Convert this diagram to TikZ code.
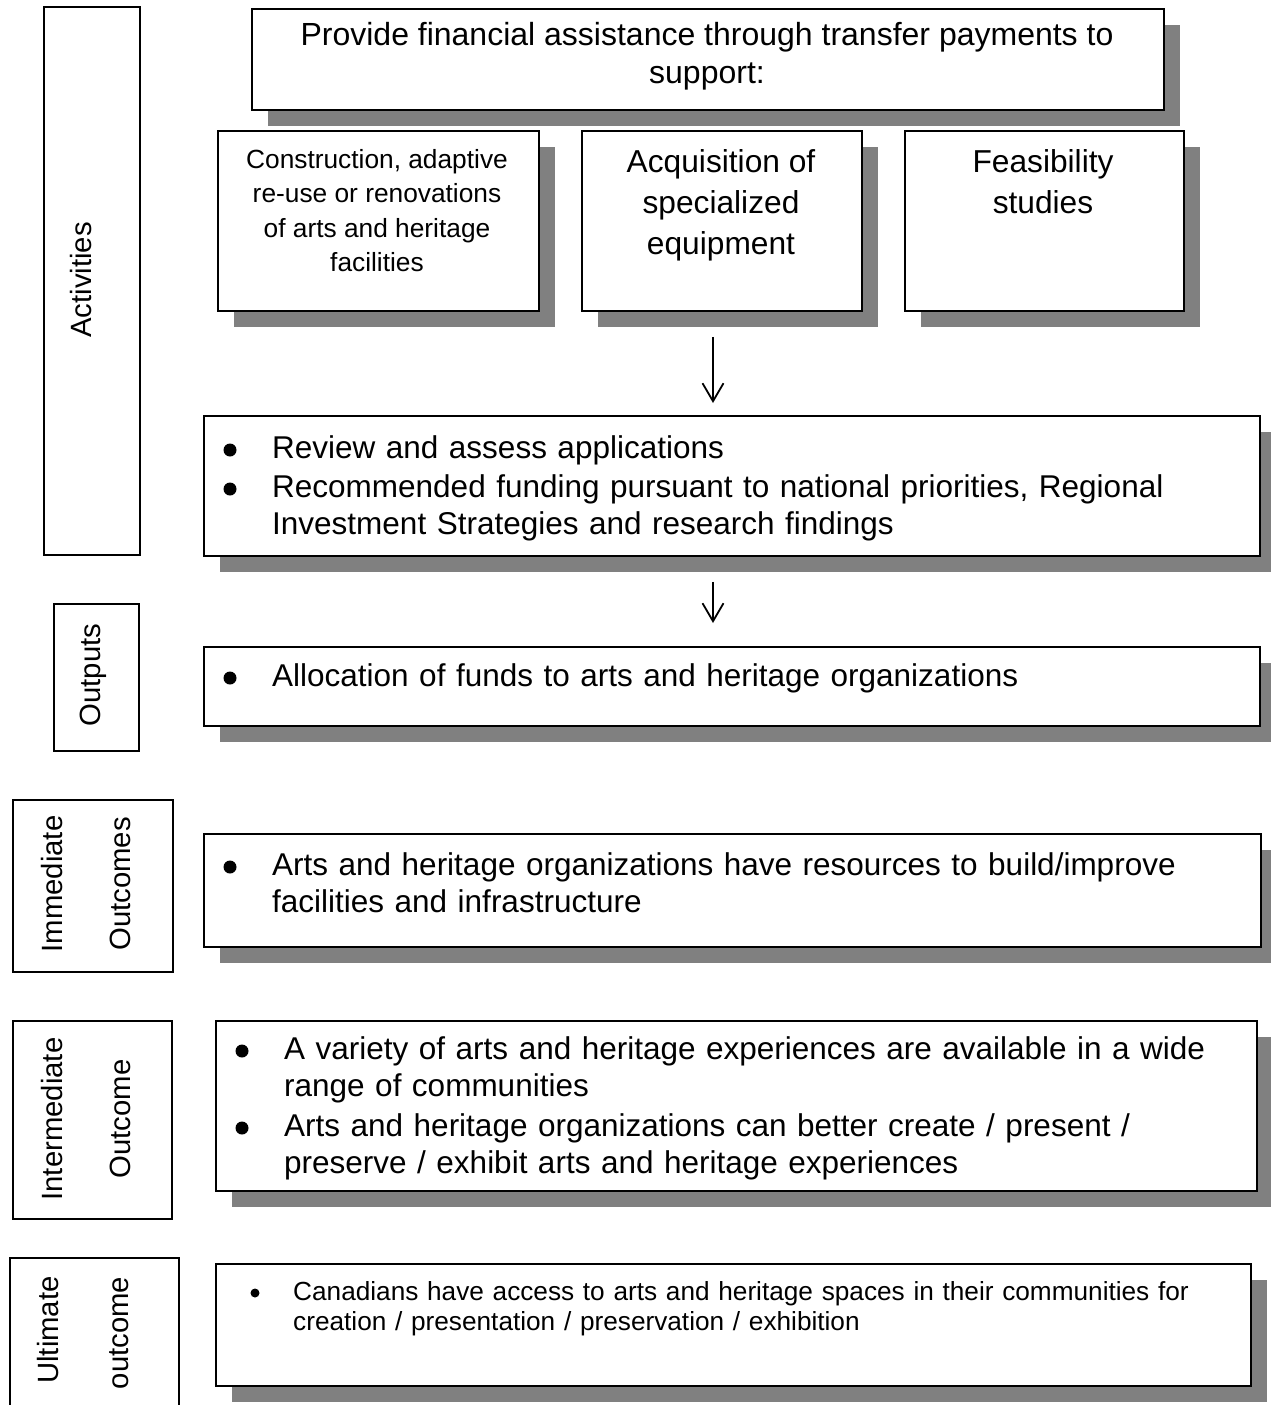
\documentclass[tikz,border=0pt]{standalone}
\usepackage{fontspec}
\setmainfont{Liberation Sans}
\usetikzlibrary{arrows.meta,shadows,backgrounds,calc}
\definecolor{sgray}{HTML}{808080}
\newcommand\mkbox[6][box]{\node[#1, minimum width=#5pt-#3pt, minimum height=#6pt-#4pt] (#2) at (#3,#4) {};}
\begin{document}
\begin{tikzpicture}[x=1pt,y=-1pt,
  box/.style={draw=black, line width=1.8pt, fill=white, inner sep=0pt, anchor=north west,
    drop shadow={shadow xshift=16pt, shadow yshift=-16pt, fill=sgray, opacity=1}},
  lab/.style={draw=black, line width=1.8pt, fill=white, inner sep=0pt, anchor=north west},
  txt/.style={inner sep=0pt, anchor=base},
  btxt/.style={inner sep=0pt, anchor=base west, text width=980pt},
  big/.style={font=\fontsize{31.5pt}{37.5pt}\selectfont},
  bul/.style={circle, fill=black, inner sep=0pt, minimum size=13pt},
  sbul/.style={circle, fill=black, inner sep=0pt, minimum size=9pt},
  vlab/.style={inner sep=0pt, anchor=base, rotate=90, font=\fontsize{29.3pt}{35pt}\selectfont},
  arr/.style={-{Straight Barb[length=18pt,width=21pt]}, line width=1.8pt}]
\useasboundingbox (0,0) rectangle (1270,1405);
\fill[white] (0,0) rectangle (1270,1405);

% left label boxes
\mkbox[lab]{actl}{43}{6}{139}{554}
\mkbox[lab]{outl}{53}{603}{138}{750}
\mkbox[lab]{imml}{12}{799}{172}{971}
\mkbox[lab]{intl}{12}{1020}{171}{1218}
\mkbox[lab]{ultl}{9}{1257}{178}{1440}

\node[vlab] (actt) at (91,280) {Activities};
\node[vlab] (outt) at (100,675) {Outputs};
\node[vlab] (immt1) at (62,884) {Immediate};
\node[vlab] (immt2) at (130,884) {Outcomes};
\node[vlab] (intt1) at (62,1119) {Intermediate};
\node[vlab] (intt2) at (130,1119) {Outcome};
\node[vlab] (ultt1) at (58,1330) {Ultimate};
\node[vlab] (ultt2) at (128,1333) {outcome};

% content boxes
\mkbox{top}{251}{8}{1163}{109}
\mkbox{c1}{217}{130}{538}{310}
\mkbox{c2}{581}{130}{861}{310}
\mkbox{c3}{904}{130}{1183}{310}
\mkbox{rev}{203}{415}{1259}{555}
\mkbox{alloc}{203}{646}{1259}{725}
\mkbox{imm}{203}{833}{1260}{946}
\mkbox{inter}{215}{1020}{1256}{1190}
\mkbox{ult}{215}{1263}{1250}{1385}

% connectors from the top box (mostly hidden)
\begin{scope}[on background layer]
\draw[arr] (top) -- (c1.north);
\draw[arr] (top.south) -- (top.south |- c2.north);
\draw[arr] (top) -- (c3.north);
\end{scope}

% arrows
\coordinate (ax) at (713,0);
\draw[arr, shorten <=25pt, shorten >=12pt] (c2.south -| ax) -- (rev.north -| ax);
\draw[arr, shorten <=25pt, shorten >=23pt] (rev.south -| ax) -- (alloc.north -| ax);

% box texts (base anchor = last line)
\node[txt, align=center, font=\fontsize{32pt}{38pt}\selectfont] (toptxt) at (707,84)
  {Provide financial assistance through transfer payments to\\support:};
\node[txt, align=center, font=\fontsize{26.3pt}{34.5pt}\selectfont] (c1txt) at (377,271.5)
  {Construction, adaptive\\re-use or renovations\\of arts and heritage\\facilities};
\node[txt, align=center, font=\fontsize{31.7pt}{41pt}\selectfont] (c2txt) at (721,254)
  {Acquisition of\\specialized\\equipment};
\node[txt, align=center, font=\fontsize{31.7pt}{41pt}\selectfont] (c3txt) at (1043,213)
  {Feasibility\\studies};

% bullet lists
\node[bul] (rb1) at (230,450) {};
\node[bul] (rb2) at (230,489) {};
\node[btxt, big] (revtxt1) at (272,458) {Review and assess applications};
\node[btxt, big] (revtxt2) at (272,497)
  {Recommended funding pursuant to national priorities, Regional\\Investment Strategies and research findings};

\node[bul] (ab1) at (230,678) {};
\node[btxt, big] (alloctxt) at (272,686) {Allocation of funds to arts and heritage organizations};

\node[bul] (ib1) at (230,867) {};
\node[btxt, font=\fontsize{31.5pt}{37pt}\selectfont] (immtxt) at (272,875)
  {Arts and heritage organizations have resources to build/improve\\facilities and infrastructure};

\node[bul] (nb1) at (242,1051) {};
\node[bul] (nb2) at (242,1128) {};
\node[btxt, font=\fontsize{31.5pt}{37pt}\selectfont] (inttxt1) at (284,1059)
  {A variety of arts and heritage experiences are available in a wide\\range of communities};
\node[btxt, font=\fontsize{31.5pt}{37pt}\selectfont] (inttxt2) at (284,1136)
  {Arts and heritage organizations can better create / present /\\preserve / exhibit arts and heritage experiences};

\node[sbul] (ub1) at (255,1293) {};
\node[btxt, font=\fontsize{26.2pt}{30pt}\selectfont] (ulttxt) at (293,1300)
  {Canadians have access to arts and heritage spaces in their communities for\\creation / presentation / preservation / exhibition};
\end{tikzpicture}
\end{document}
